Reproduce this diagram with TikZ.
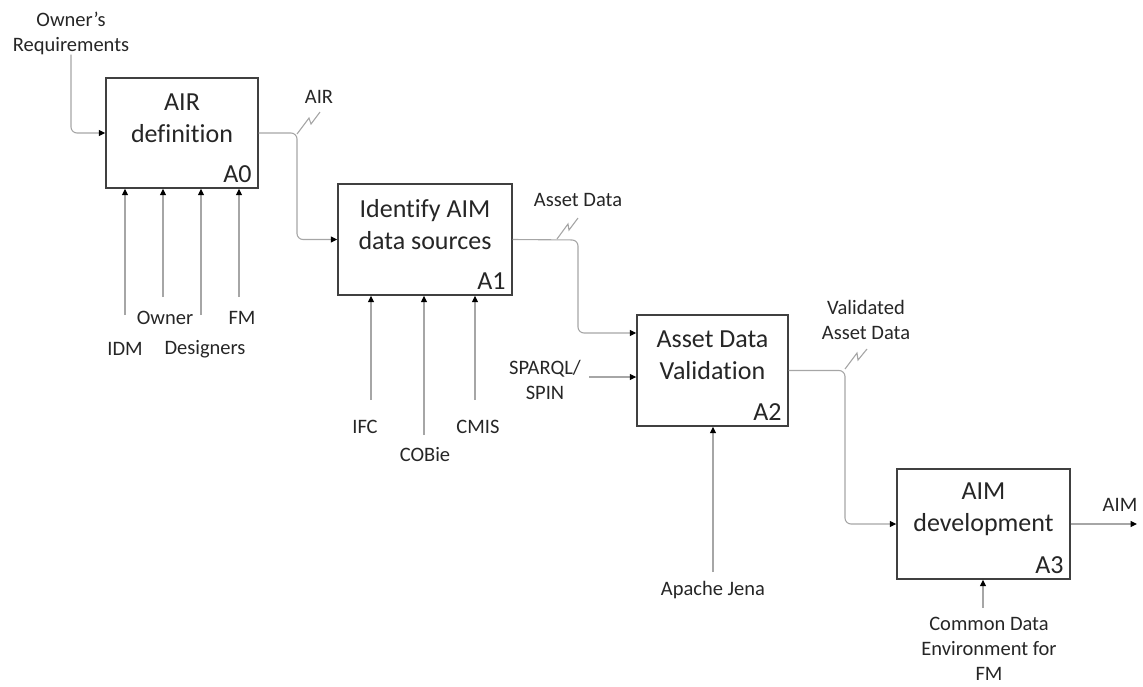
\documentclass[tikz,border=0pt]{standalone}
\usepackage{fontspec}
\setmainfont[Ligatures=NoCommon]{Carlito}
\usetikzlibrary{arrows.meta,calc}
\definecolor{boxline}{HTML}{404040}
\definecolor{wire}{HTML}{A6A6A6}
\definecolor{ink}{HTML}{262626}
\begin{document}
\begin{tikzpicture}[x=1pt,y=-1pt,
  proc/.style={draw=boxline,line width=1.4pt,inner sep=0pt,fill=white},
  ptext/.style={font=\fontsize{26}{32}\selectfont,align=center,text=ink,inner sep=0pt},
  pid/.style={font=\fontsize{26}{32}\selectfont,text=ink,anchor=base east,inner sep=0pt},
  lbl/.style={font=\fontsize{20.5}{25}\selectfont,align=center,text=ink,inner sep=0pt},
  flow/.style={draw=wire,line width=1.1pt,rounded corners=6pt,
    -{Triangle[length=6.5pt,width=6pt,color=black]}},
  tick/.style={draw=wire,line width=1.1pt}]
\useasboundingbox (0,0) rectangle (1143,686);

% activity boxes
\node[proc,minimum width=152pt,minimum height=110pt] (a0) at (182,133) {};
\node[proc,minimum width=174pt,minimum height=111pt] (a1) at (425,239.5) {};
\node[proc,minimum width=151pt,minimum height=111pt] (a2) at (712.5,370.5) {};
\node[proc,minimum width=173pt,minimum height=110pt] (a3) at (983.5,524) {};

\node[ptext] (t0) at ($(a0.north)+(0,41)$) {AIR\\definition};
\node[ptext] (t1) at ($(a1.north)+(0,41)$) {Identify AIM\\data sources};
\node[ptext] (t2) at ($(a2.north)+(0,41)$) {Asset Data\\Validation};
\node[ptext] (t3) at ($(a3.north)+(0,41)$) {AIM\\development};

\node[pid] (i0) at ($(a0.south east)+(-7,-6)$) {A0};
\node[pid] (i1) at ($(a1.south east)+(-7,-6)$) {A1};
\node[pid] (i2) at ($(a2.south east)+(-7,-6)$) {A2};
\node[pid] (i3) at ($(a3.south east)+(-7,-6)$) {A3};

% input to A0
\node[lbl] (req) at (71,33) {Owner’s\\Requirements};
\draw[flow] (req.south) |- (a0.west);

% A0 -> A1
\coordinate (j0) at (297,135);
\draw[flow] (a0.east) -- (a0.east -| j0) -- (j0 |- a1.west) -- (a1.west);
\node[lbl] (airl) at (319,97) {AIR};
\coordinate (z0) at (320,112);
\draw[tick] (297,134) -- (309,118) -- (311,124) -- (z0);

% A1 -> A2
\coordinate (j1) at (578,240);
\coordinate (a2in) at ([yshift=37.5pt]a2.west);
\draw[flow] (a1.east) -- (j1) -- (j1 |- a2in) -- (a2in);
\node[lbl] (adl) at (578,200) {Asset Data};
\coordinate (z1) at (578,218);
\draw[tick] (557,239) -- (568,224) -- (569,230) -- (z1);

% SPARQL/SPIN control into A2
\node[lbl] (sp) at (545,380) {SPARQL/\\SPIN};
\coordinate (s0) at (589,377);
\coordinate (a2sp) at ([yshift=-6.5pt]a2.west);
\draw[flow] (s0) -- (a2sp);

% A2 -> A3
\coordinate (j2) at (845,370);
\draw[flow] (a2.east) -- (a2.east -| j2) -- (j2 |- a3.west) -- (a3.west);
\node[lbl] (vdl) at (866,320) {Validated\\Asset Data};
\coordinate (z2) at (867,349);
\draw[tick] (845,369) -- (857,353) -- (858,360) -- (z2);

% A3 output
\coordinate (out) at (1137,524);
\draw[flow] (a3.east) -- (out);
\node[lbl] (aiml) at (1120,505) {AIM};

% mechanisms of A0
\coordinate (m01) at (125,315);
\coordinate (m02) at (163,297);
\coordinate (m03) at (201,315);
\coordinate (m04) at (239,297);
\foreach \m in {m01,m02,m03,m04} \draw[flow] (\m) -- (\m |- a0.south);
\node[lbl] (idm) at (125,349) {IDM};
\node[lbl] (own) at (165,318) {Owner};
\node[lbl] (des) at (205,349) {Designers};
\node[lbl] (fm) at (242,318) {FM};

% mechanisms of A1
\coordinate (m11) at (371,400);
\coordinate (m12) at (424,435);
\coordinate (m13) at (475,400);
\foreach \m in {m11,m12,m13} \draw[flow] (\m) -- (\m |- a1.south);
\node[lbl] (ifc) at (365,427) {IFC};
\node[lbl] (cob) at (425,455) {COBie};
\node[lbl] (cmis) at (478,427) {CMIS};

% mechanism of A2
\coordinate (m21) at (713,572);
\draw[flow] (m21) -- (m21 |- a2.south);
\node[lbl] (jena) at (713,590) {Apache Jena};

% mechanism of A3
\coordinate (m31) at (983,608);
\draw[flow] (m31) -- (m31 |- a3.south);
\node[lbl] (cde) at (989,649) {Common Data\\Environment for\\FM};
\end{tikzpicture}
\end{document}
